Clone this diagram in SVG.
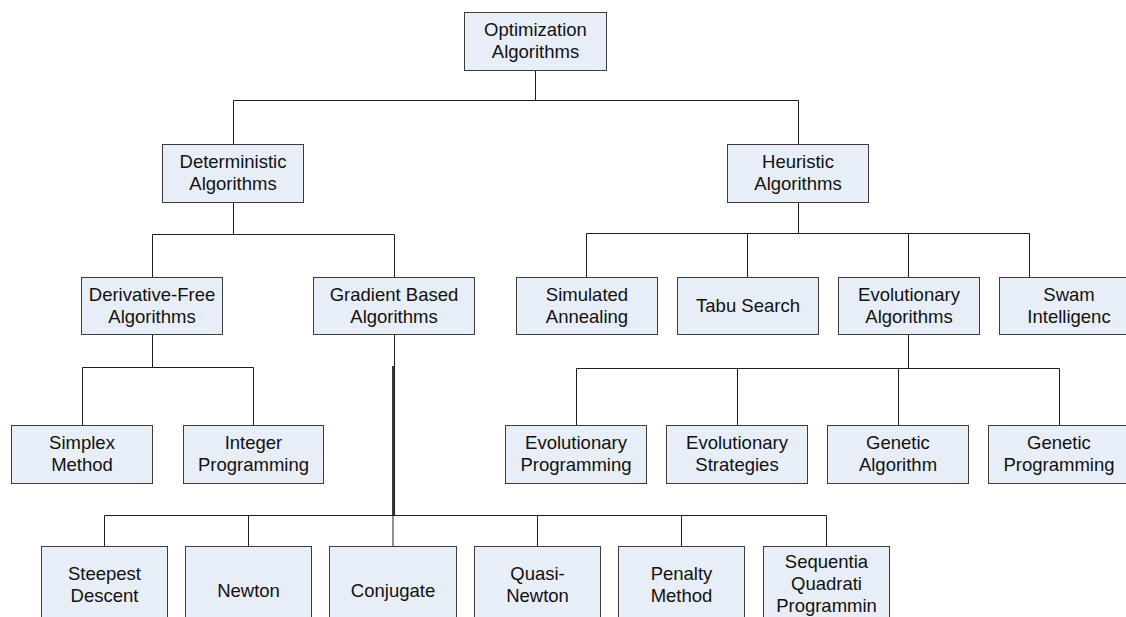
<svg xmlns="http://www.w3.org/2000/svg" width="1126" height="617" viewBox="0 0 1126 617">
  <style>
    .box { fill: #e8eef8; stroke: #3c3c3c; stroke-width: 1; }
    .lbl { font-family: "Liberation Sans", Arial, sans-serif; font-size: 18.5px; fill: #111; text-anchor: middle; }
    .wire { stroke: #1e1e1e; stroke-width: 1; fill: none; }
    .trunk { stroke: #3a3a3a; stroke-width: 2; fill: none; }
  </style>
  <rect width="1126" height="617" fill="#ffffff"/>

  <!-- connectors -->
  <g id="connectors">
    <!-- root to level 1 -->
    <path class="wire" d="M535.5 71 V100.5 M233.5 100.5 H798.5 M233.5 100.5 V144 M798.5 100.5 V144"/>
    <!-- deterministic branch -->
    <path class="wire" d="M233.5 203 V234.5 M152.5 234.5 H394.5 M152.5 234.5 V277 M394.5 234.5 V277"/>
    <!-- heuristic branch -->
    <path class="wire" d="M798.5 203 V233.5 M586.5 233.5 H1029.5 M586.5 233.5 V277 M747.5 233.5 V277 M908.5 233.5 V277 M1029.5 233.5 V277"/>
    <!-- derivative-free branch -->
    <path class="wire" d="M152.5 335 V367.5 M82.5 367.5 H253.5 M82.5 367.5 V425 M253.5 367.5 V425"/>
    <!-- evolutionary branch -->
    <path class="wire" d="M908.5 335 V368.5 M576.5 368.5 H1059.5 M576.5 368.5 V425 M737.5 368.5 V425 M898.5 368.5 V425 M1059.5 368.5 V425"/>
    <!-- gradient based branch -->
    <path class="wire" d="M394.5 335 V515.5"/>
    <path class="trunk" d="M393 366 V516"/>
    <path class="wire" d="M104.5 515.5 H826.5 M104.5 515.5 V546 M248.5 515.5 V546 M393 515.5 V546 M537.5 515.5 V546 M681.5 515.5 V546 M826.5 515.5 V546"/>
  </g>

  <!-- level 0 -->
  <g id="n-optimization">
    <rect class="box" x="464.5" y="12.5" width="142" height="58"/>
    <text class="lbl" x="535.5" y="36">Optimization</text>
    <text class="lbl" x="535.5" y="58">Algorithms</text>
  </g>

  <!-- level 1 -->
  <g id="n-deterministic">
    <rect class="box" x="162.5" y="144.5" width="141" height="58"/>
    <text class="lbl" x="233" y="168">Deterministic</text>
    <text class="lbl" x="233" y="190">Algorithms</text>
  </g>
  <g id="n-heuristic">
    <rect class="box" x="727.5" y="144.5" width="141" height="58"/>
    <text class="lbl" x="798" y="168">Heuristic</text>
    <text class="lbl" x="798" y="190">Algorithms</text>
  </g>

  <!-- level 2 -->
  <g id="n-derivative-free">
    <rect class="box" x="81.5" y="277.5" width="141" height="57"/>
    <text class="lbl" x="152" y="301">Derivative-Free</text>
    <text class="lbl" x="152" y="323">Algorithms</text>
  </g>
  <g id="n-gradient">
    <rect class="box" x="313.5" y="277.5" width="161" height="57"/>
    <text class="lbl" x="394" y="301">Gradient Based</text>
    <text class="lbl" x="394" y="323">Algorithms</text>
  </g>
  <g id="n-simulated">
    <rect class="box" x="516.5" y="277.5" width="141" height="57"/>
    <text class="lbl" x="587" y="301">Simulated</text>
    <text class="lbl" x="587" y="323">Annealing</text>
  </g>
  <g id="n-tabu">
    <rect class="box" x="677.5" y="277.5" width="141" height="57"/>
    <text class="lbl" x="748" y="312">Tabu Search</text>
  </g>
  <g id="n-evolutionary">
    <rect class="box" x="838.5" y="277.5" width="141" height="57"/>
    <text class="lbl" x="909" y="301">Evolutionary</text>
    <text class="lbl" x="909" y="323">Algorithms</text>
  </g>
  <g id="n-swarm">
    <rect class="box" x="999.5" y="277.5" width="141" height="57"/>
    <text class="lbl" x="1069" y="301">Swam</text>
    <text class="lbl" x="1069" y="323">Intelligenc</text>
  </g>

  <!-- level 3 -->
  <g id="n-simplex">
    <rect class="box" x="11.5" y="425.5" width="141" height="58"/>
    <text class="lbl" x="82" y="449">Simplex</text>
    <text class="lbl" x="82" y="471">Method</text>
  </g>
  <g id="n-integer">
    <rect class="box" x="183.5" y="425.5" width="140" height="58"/>
    <text class="lbl" x="253.5" y="449">Integer</text>
    <text class="lbl" x="253.5" y="471">Programming</text>
  </g>
  <g id="n-evo-programming">
    <rect class="box" x="505.5" y="425.5" width="141" height="58"/>
    <text class="lbl" x="576" y="449">Evolutionary</text>
    <text class="lbl" x="576" y="471">Programming</text>
  </g>
  <g id="n-evo-strategies">
    <rect class="box" x="666.5" y="425.5" width="141" height="58"/>
    <text class="lbl" x="737" y="449">Evolutionary</text>
    <text class="lbl" x="737" y="471">Strategies</text>
  </g>
  <g id="n-genetic-algorithm">
    <rect class="box" x="827.5" y="425.5" width="141" height="58"/>
    <text class="lbl" x="898" y="449">Genetic</text>
    <text class="lbl" x="898" y="471">Algorithm</text>
  </g>
  <g id="n-genetic-programming">
    <rect class="box" x="988.5" y="425.5" width="141" height="58"/>
    <text class="lbl" x="1059" y="449">Genetic</text>
    <text class="lbl" x="1059" y="471">Programming</text>
  </g>

  <!-- level 4: gradient based methods -->
  <g id="n-steepest">
    <rect class="box" x="41.5" y="546.5" width="126" height="90"/>
    <text class="lbl" x="104.5" y="580">Steepest</text>
    <text class="lbl" x="104.5" y="602">Descent</text>
  </g>
  <g id="n-newton">
    <rect class="box" x="185.5" y="546.5" width="126" height="90"/>
    <text class="lbl" x="248.5" y="597">Newton</text>
  </g>
  <g id="n-conjugate">
    <rect class="box" x="329.5" y="546.5" width="127" height="90"/>
    <text class="lbl" x="393" y="597">Conjugate</text>
  </g>
  <g id="n-quasi-newton">
    <rect class="box" x="474.5" y="546.5" width="126" height="90"/>
    <text class="lbl" x="537.5" y="580">Quasi-</text>
    <text class="lbl" x="537.5" y="602">Newton</text>
  </g>
  <g id="n-penalty">
    <rect class="box" x="618.5" y="546.5" width="126" height="90"/>
    <text class="lbl" x="681.5" y="580">Penalty</text>
    <text class="lbl" x="681.5" y="602">Method</text>
  </g>
  <g id="n-sqp">
    <rect class="box" x="763.5" y="546.5" width="126" height="90"/>
    <text class="lbl" x="826.5" y="568">Sequentia</text>
    <text class="lbl" x="826.5" y="590">Quadrati</text>
    <text class="lbl" x="826.5" y="612">Programmin</text>
  </g>
</svg>
